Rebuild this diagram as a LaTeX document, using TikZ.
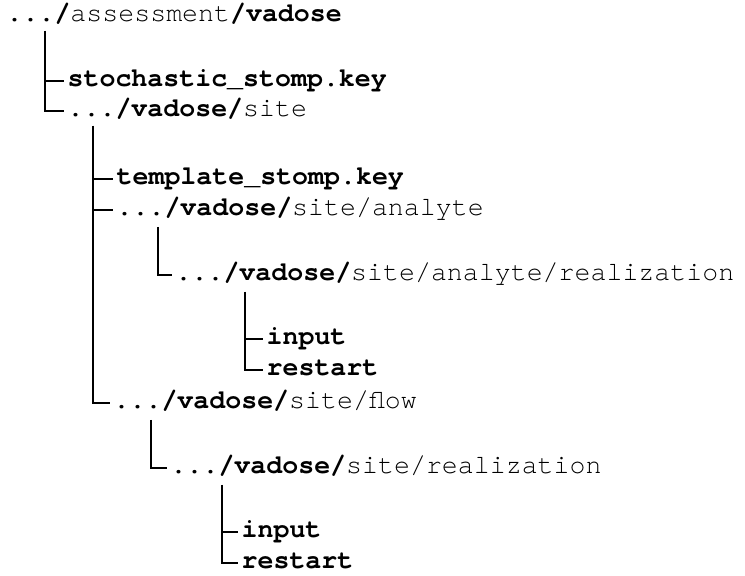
\documentclass[tikz,border=0pt]{standalone}
\usepackage{fontspec}
\setmonofont{texgyrecursor}[Extension=.otf, UprightFont=*-regular, BoldFont=*-bold]
\usepackage{tikz}

\begin{document}
\begin{tikzpicture}[x=0.5pt, y=-0.5pt, line width=0.65pt,
  entry/.style={anchor=west, inner ysep=0pt, inner xsep=1.5pt, text height=7pt, text depth=1.4pt, font=\fontsize{13.3pt}{16pt}\selectfont\ttfamily}]
\useasboundingbox (0,0) rectangle (745,576);

% root directory
\node[entry] (root) at (3,16) {\textbf{.../}assessment\textbf{/vadose}};
\coordinate (t1) at (45,31);
\node[entry] (stoch) at (64,81) {\textbf{stochastic\_stomp.key}};
\node[entry] (site) at (64,111) {\textbf{.../vadose/}site};
\draw (t1) |- (stoch.west);
\draw (t1) |- (site.west);

% site
\coordinate (t2) at (93,126);
\node[entry] (templ) at (113,179) {\textbf{template\_stomp.key}};
\node[entry] (analyte) at (113,210) {\textbf{.../vadose/}site/analyte};
\node[entry] (flow) at (110,403) {\textbf{.../vadose/}site/flow};
\draw (t2) |- (templ.west);
\draw (t2) |- (analyte.west);
\draw (t2) |- (flow.west);

% analyte
\coordinate (t3) at (158,227);
\node[entry] (areal) at (172,275) {\textbf{.../vadose/}site/analyte/realization};
\draw (t3) |- (areal.west);
\coordinate (t4) at (245,292);
\node[entry] (ainput) at (263,339) {\textbf{input}};
\node[entry] (arestart) at (263,370) {\textbf{restart}};
\draw (t4) |- (ainput.west);
\draw (t4) |- (arestart.west);

% flow
\coordinate (t5) at (151,420);
\node[entry] (freal) at (167,468) {\textbf{.../vadose/}site/realization};
\draw (t5) |- (freal.west);
\coordinate (t6) at (222,485);
\node[entry] (finput) at (238,532) {\textbf{input}};
\node[entry] (frestart) at (238,563) {\textbf{restart}};
\draw (t6) |- (finput.west);
\draw (t6) |- (frestart.west);
\end{tikzpicture}
\end{document}
